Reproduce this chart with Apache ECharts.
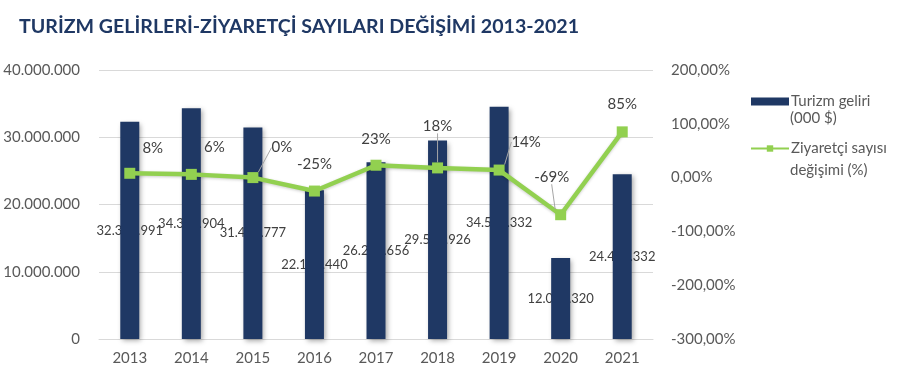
<!DOCTYPE html>
<html><head><meta charset="utf-8">
<script src="https://cdn.jsdelivr.net/npm/echarts@6/dist/echarts.min.js"></script>
<style>html,body{margin:0;padding:0;background:#fff}#c{width:908px;height:384px}</style>
</head><body><div id="c"></div>
<script>
const years = ['2013','2014','2015','2016','2017','2018','2019','2020','2021'];
const revenue = [32308991, 34305904, 31464777, 22107440, 26283656, 29512926, 34520332, 12059320, 24482332];
const visitorChange = [8, 6, 0, -25, 23, 18, 14, -69, 85];
const leftTicks = [0, 10000000, 20000000, 30000000, 40000000];
const rightTicks = [-300, -200, -100, 0, 100, 200];
const seriesNames = ['Turizm geliri (000 $)', 'Ziyaretçi sayısı değişimi (%)'];

const labelShift = [[23,-7],[23,-9],[29,-12],[0,-9],[0,-8],[0,-24],[27,-10],[-9,-20],[0,-10]];
const withLeader = [false,false,true,false,false,true,true,true,false];

function fmtDots(v){return String(Math.round(v)).replace(/\B(?=(\d{3})+(?!\d))/g,'.');}
const FONT = 'Lato';
const NAVY = '#1F3864';
const GREEN = '#92D050';
const TXT = '#595959';

const chart = echarts.init(document.getElementById('c'), null, {renderer:'canvas'});
chart.setOption({
  animation:false,
  backgroundColor:'#fff',
  title:{text:'TURİZM GELİRLERİ-ZİYARETÇİ SAYILARI DEĞİŞİMİ 2013-2021',left:14,top:12,
    textStyle:{fontFamily:FONT,fontWeight:'bold',fontSize:19.6,color:NAVY}},
  grid:{left:99,right:255,top:70,bottom:45,containLabel:false},
  legend:{orient:'vertical',left:745,top:89,itemGap:32,itemWidth:38,itemHeight:8,
    data:[{name:seriesNames[0],icon:'rect'},{name:seriesNames[1]}],
    formatter:n=>n===seriesNames[0]?'Turizm geliri':'Ziyaretçi sayısı',
    textStyle:{fontFamily:FONT,fontSize:15,color:TXT,padding:[0,0,0,-3]}},
  graphic:[
    {type:'text',left:790,top:111,style:{text:'(000 $)',font:'15px '+FONT,fill:TXT}},
    {type:'text',left:790,top:163,style:{text:'değişimi (%)',font:'15px '+FONT,fill:TXT}}
  ],
  xAxis:{type:'category',data:years,
    axisLine:{lineStyle:{color:'#d9d9d9',width:1}},axisTick:{show:false},
    axisLabel:{fontFamily:FONT,fontSize:15,color:TXT,margin:12}},
  yAxis:[
    {type:'value',min:0,max:40000000,interval:10000000,
      axisLabel:{fontFamily:FONT,fontSize:15,color:TXT,margin:19,formatter:v=>fmtDots(v)},
      splitLine:{lineStyle:{color:'#d9d9d9',width:1}},axisLine:{show:false},axisTick:{show:false}},
    {type:'value',min:-300,max:200,interval:100,
      axisLabel:{fontFamily:FONT,fontSize:15,color:TXT,margin:18,formatter:v=>v.toFixed(2).replace('.',',')+'%'},
      splitLine:{show:false},axisLine:{show:false},axisTick:{show:false}}
  ],
  series:[
    {name:seriesNames[0]+' label',type:'bar',yAxisIndex:0,data:revenue,barWidth:19,z:1,
      itemStyle:{color:'rgba(0,0,0,0)'},silent:true,legendHoverLink:false,
      label:{show:true,position:'inside',fontFamily:FONT,fontSize:13,color:'#404040',formatter:p=>fmtDots(p.value)}},
    {name:seriesNames[0],type:'bar',yAxisIndex:0,data:revenue,barWidth:19,barGap:'-100%',z:2,
      itemStyle:{color:NAVY,shadowColor:'rgba(0,0,0,0.35)',shadowBlur:5,shadowOffsetX:2,shadowOffsetY:2}},
    {name:seriesNames[1],type:'line',yAxisIndex:1,z:3,
      data:visitorChange.map((v,i)=>({value:v,labelLine:{show:withLeader[i]}})),
      symbol:'rect',symbolSize:11,
      lineStyle:{color:GREEN,width:4.5,shadowColor:'rgba(0,0,0,0.2)',shadowBlur:3,shadowOffsetY:1},
      itemStyle:{color:GREEN},
      label:{show:true,position:'top',distance:5,fontFamily:FONT,fontSize:15,color:'#404040',formatter:p=>p.value+'%'},
      labelLine:{lineStyle:{color:'#a6a6a6',width:1}},
      labelLayout:p=>({dx:labelShift[p.dataIndex][0],dy:labelShift[p.dataIndex][1]})}
  ]
});
</script></body></html>
